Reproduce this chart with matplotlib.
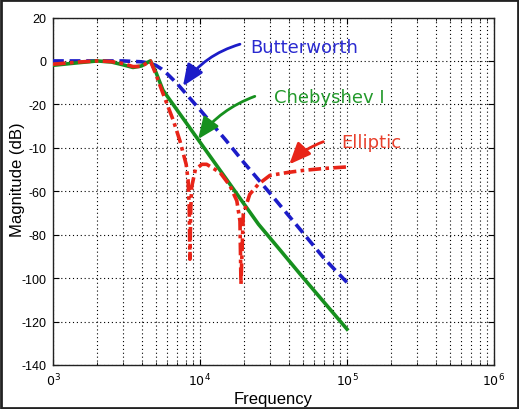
import matplotlib
matplotlib.use("Agg")
import matplotlib.pyplot as plt
from matplotlib.patches import Rectangle

plt.rcParams['mathtext.fontset'] = 'custom'
plt.rcParams['mathtext.rm'] = 'Liberation Sans'
plt.rcParams['mathtext.it'] = 'Liberation Sans'

# ---- data ----
bw_f = [1000, 2000, 3000, 4000, 4500, 5000, 5500, 6000, 7000, 8000, 10000,
        15000, 20000, 30000, 50000, 70000, 100000]
bw_db = [0, 0, 0, -0.4, -1, -2, -3.8, -6, -10.5, -15, -22.5,
         -36.5, -47, -61, -79, -91, -102]

ch_f = [1000, 1500, 2000, 2500, 3000, 3500, 4000, 4500, 4600, 5000, 5600, 7000,
        8000, 10000, 15000, 20000, 25000, 35000, 50000, 70000, 100000]
ch_db = [-2, -0.8, 0, -0.5, -1.8, -3, -2.3, -0.3, 0, -5, -13.5, -22.7,
         -28.2, -37.4, -54.1, -66, -75.2, -87, -99.6, -111.2, -123.5]

el_f = [1000, 1500, 2000, 2500, 3000, 3500, 4000, 4300, 4600, 5000, 5600, 6600,
        7300, 8050, 8300, 8450, 8540, 8650, 8780, 9300, 10300, 11100, 13700,
        16000, 17800, 18700, 19000, 19700, 21800, 24900, 29900, 40000, 50300,
        70000, 100000]
el_db = [-1.5, -0.5, 0, -0.3, -1.2, -2.6, -2.5, -1.2, 0, -6, -15, -27.6,
         -36.8, -47.6, -55, -68, -91.3, -68, -58, -50, -47.6, -47.6, -51.4,
         -57.5, -64.4, -73.7, -102.8, -70.6, -61.4, -56.8, -52.7, -51.3, -50.4,
         -49.5, -48.8]

y_ticks = [20, 0, -20, -40, -60, -80, -100, -120, -140]
y_tick_labels = ['20', '0', '-20', '-10', '-60', '-80', '-100', '-120', '-140']
x_ticks = [1e3, 1e4, 1e5, 1e6]
x_tick_labels = [r'$\mathregular{0^{3}}$', r'$\mathregular{10^{4}}$',
                 r'$\mathregular{10^{5}}$', r'$\mathregular{10^{6}}$']

labels = ['Butterworth', 'Chebyshev I', 'Elliptic']
# (text position, arrow tail, arrow tip) in data coords
label_pos = [(21800, 6.3), (31900, -16.7), (92000, -37.5)]
arrow_tail = [(18700, 7.7), (23600, -16.3), (69000, -37.2)]
arrow_tip = [(7660, -11.6), (9700, -36), (40500, -47.6)]

line_colors = ['#1c1cc8', '#16901e', '#e82418']
text_colors = ['#2a2ad0', '#23992b', '#e8402c']
arrow_rad = [0.18, 0.15, 0.12]

fig = plt.figure(figsize=(5.19, 4.10), dpi=100)
ax = fig.add_axes([53/519, 1-366/410, 441/519, (366-18.5)/410])

ax.semilogx(bw_f, bw_db, color=line_colors[0], lw=2.6, ls=(0, (3, 1.6)), zorder=3)
ax.semilogx(ch_f, ch_db, color=line_colors[1], lw=2.6, ls='-', zorder=4)
ax.semilogx(el_f, el_db, color=line_colors[2], lw=2.6, ls=(0, (3.5, 1.2, 1, 1.2)), zorder=5)

ax.set_xlim(1e3, 1e6)
ax.set_ylim(-140, 20)
ax.set_yticks(y_ticks)
ax.set_yticklabels(y_tick_labels, fontsize=9, family='Liberation Sans')
ax.set_xticks(x_ticks)
ax.set_xticklabels(x_tick_labels, fontsize=9)
ax.tick_params(which='both', direction='in', top=True, right=True)
ax.tick_params(which='major', length=4, width=0.8, pad=5)
ax.tick_params(which='minor', length=2, width=0.6)
ax.grid(True, which='major', axis='both', color='k', lw=0.8, ls=(0, (1, 2.5)))
ax.grid(True, which='minor', axis='x', color='k', lw=0.8, ls=(0, (1, 2.5)))
ax.set_axisbelow(True)
for s in ax.spines.values():
    s.set_linewidth(1.0)
    s.set_color('#222222')

ax.set_xlabel('Frequency', fontsize=12, family='Liberation Sans', labelpad=2)
fig.text(18/519, 1-180/410, 'Magnitude (dB)', rotation=90, fontsize=12,
         family='Liberation Sans', ha='center', va='center')

for i in range(3):
    ax.text(label_pos[i][0], label_pos[i][1], labels[i], color=text_colors[i],
            fontsize=13, family='DejaVu Sans', ha='left', va='center')
    ax.annotate('', xy=arrow_tip[i], xytext=arrow_tail[i],
                arrowprops=dict(arrowstyle='-|>,head_length=1.3,head_width=0.55',
                                color=line_colors[i], lw=2,
                                connectionstyle='arc3,rad=%g' % arrow_rad[i],
                                shrinkA=0, shrinkB=0), zorder=6)

fig.add_artist(Rectangle((0.002, 0.002), 0.996, 0.996, transform=fig.transFigure,
                         fill=False, edgecolor='#222222', lw=2))

fig.savefig('out.png', dpi=100)
